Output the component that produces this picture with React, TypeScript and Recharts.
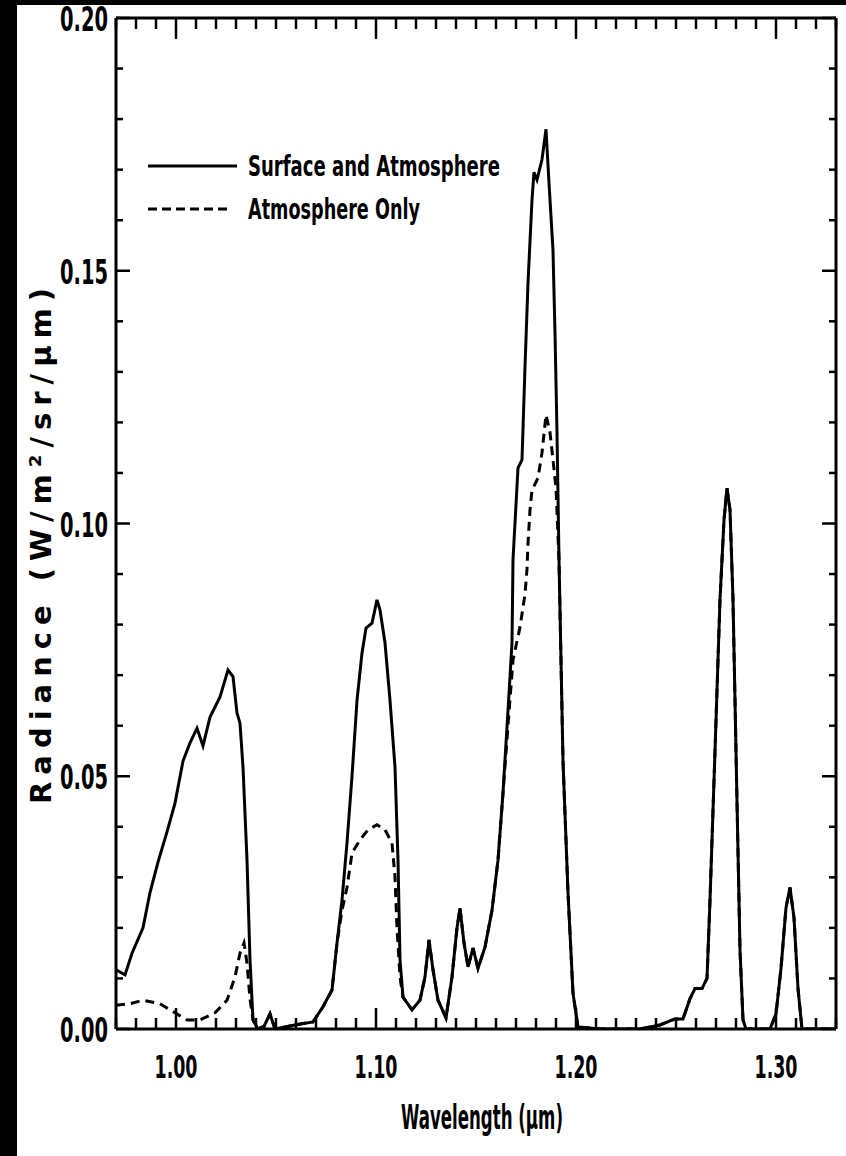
import { LineChart, Line, XAxis, YAxis, Legend } from "recharts";

// Surface + atmosphere spectrum (wavelength in µm, radiance in W/m²/sr/µm)
const surfaceWl = [
  0.97, 0.9745, 0.978, 0.9835, 0.987, 0.991, 0.9955, 0.9995, 1.0035, 1.007,
  1.0105, 1.0135, 1.017, 1.022, 1.026, 1.0285, 1.0305, 1.032, 1.0335, 1.0355,
  1.037, 1.0385, 1.041, 1.044, 1.047, 1.0495, 1.0595, 1.0685, 1.0735, 1.078,
  1.0805, 1.083, 1.0855, 1.088, 1.0905, 1.093, 1.095, 1.098, 1.1005, 1.102,
  1.1045, 1.107, 1.1095, 1.111, 1.112, 1.1135, 1.118, 1.122, 1.1245, 1.1265,
  1.1285, 1.131, 1.135, 1.138, 1.1405, 1.142, 1.144, 1.146, 1.1485, 1.151,
  1.1545, 1.158, 1.161, 1.1635, 1.166, 1.168, 1.1685, 1.171, 1.173, 1.1745,
  1.176, 1.178, 1.179, 1.1805, 1.183, 1.185, 1.1865, 1.1885, 1.1895, 1.1905,
  1.1915, 1.1935, 1.196, 1.1985, 1.201, 1.212, 1.232, 1.242, 1.2495, 1.2535,
  1.257, 1.2595, 1.263, 1.2655, 1.267, 1.2695, 1.272, 1.274, 1.2755, 1.277,
  1.2785, 1.2805, 1.282, 1.2835, 1.285, 1.297, 1.3, 1.3025, 1.305, 1.307,
  1.309, 1.311, 1.313, 1.33,
];
const surfaceRad = [
  0.0117, 0.0107, 0.015, 0.02, 0.027, 0.033, 0.039, 0.0447, 0.053, 0.0566,
  0.0595, 0.056, 0.0617, 0.0657, 0.071, 0.0697, 0.0625, 0.0605, 0.0518, 0.0334,
  0.0137, 0.0018, 0.0, 0.0005, 0.003, 0.0, 0.0008, 0.0014, 0.0044, 0.0077,
  0.017, 0.0255, 0.0368, 0.05, 0.065, 0.0744, 0.0793, 0.0803, 0.0849, 0.0829,
  0.0764, 0.065, 0.0518, 0.0334, 0.0137, 0.0063, 0.0038, 0.0057, 0.0103, 0.0176,
  0.0117, 0.0057, 0.0022, 0.0103, 0.02, 0.0239, 0.017, 0.0123, 0.016, 0.012,
  0.0162, 0.0235, 0.0334, 0.0467, 0.063, 0.0764, 0.0928, 0.111, 0.1126, 0.131,
  0.1476, 0.164, 0.1695, 0.168, 0.172, 0.178, 0.1674, 0.154, 0.1377, 0.118,
  0.0928, 0.053, 0.027, 0.0071, 0.0004, 0.0, 0.0, 0.0008, 0.002, 0.002,
  0.006, 0.008, 0.008, 0.01, 0.0255, 0.055, 0.085, 0.1007, 0.107, 0.1027,
  0.085, 0.045, 0.0156, 0.0018, 0.0, 0.0, 0.003, 0.012, 0.024, 0.028,
  0.022, 0.008, 0.0, 0.0,
];

// Atmosphere-only spectrum
const atmosWl = [
  0.97, 0.977, 0.9835, 0.992, 0.9995, 1.0055, 1.012, 1.0195, 1.0255, 1.0295,
  1.032, 1.034, 1.0355, 1.037, 1.0385, 1.041, 1.044, 1.047, 1.0495, 1.0595,
  1.0685, 1.0735, 1.078, 1.0805, 1.083, 1.0855, 1.088, 1.092, 1.096, 1.1005,
  1.1045, 1.108, 1.1095, 1.1105, 1.112, 1.1135, 1.118, 1.122, 1.1245, 1.1265,
  1.1285, 1.131, 1.135, 1.138, 1.1405, 1.142, 1.144, 1.146, 1.1485, 1.151,
  1.1545, 1.158, 1.161, 1.1635, 1.166, 1.1685, 1.172, 1.1745, 1.1755, 1.176,
  1.177, 1.178, 1.181, 1.183, 1.185, 1.187, 1.1885, 1.19, 1.1915, 1.1935,
  1.196, 1.1985, 1.201, 1.212, 1.232, 1.242, 1.2495, 1.2535, 1.257, 1.2595,
  1.263, 1.2655, 1.267, 1.2695, 1.272, 1.274, 1.2755, 1.277, 1.2785, 1.2805,
  1.282, 1.2835, 1.285, 1.297, 1.3, 1.3025, 1.305, 1.307, 1.309, 1.311,
  1.313, 1.33,
];
const atmosRad = [
  0.0047, 0.005, 0.0057, 0.005, 0.0032, 0.0018, 0.0018, 0.0032, 0.0057, 0.0103,
  0.015, 0.017, 0.013, 0.006, 0.0018, 0.0, 0.0005, 0.003, 0.0, 0.0008,
  0.0014, 0.0044, 0.0077, 0.017, 0.0235, 0.028, 0.0348, 0.0374, 0.0394, 0.0404,
  0.0394, 0.0368, 0.03, 0.02, 0.0103, 0.0063, 0.0038, 0.0057, 0.0103, 0.0176,
  0.0117, 0.0057, 0.0022, 0.0103, 0.02, 0.0239, 0.017, 0.0123, 0.016, 0.012,
  0.0162, 0.0235, 0.0334, 0.0467, 0.06, 0.073, 0.0795, 0.086, 0.091, 0.096,
  0.1027, 0.1066, 0.109, 0.114, 0.1215, 0.118, 0.1126, 0.107, 0.0928, 0.053,
  0.027, 0.0071, 0.0004, 0.0, 0.0, 0.0008, 0.002, 0.002, 0.006, 0.008,
  0.008, 0.01, 0.0255, 0.055, 0.085, 0.1007, 0.107, 0.1027, 0.085, 0.045,
  0.0156, 0.0018, 0.0, 0.0, 0.003, 0.012, 0.024, 0.028, 0.022, 0.008,
  0.0, 0.0,
];

const xMajors = [1.0, 1.1, 1.2, 1.3];
const xTickLabels = ["1.00", "1.10", "1.20", "1.30"];
const yMajors = [0.0, 0.05, 0.1, 0.15, 0.2];
const yTickLabels = ["0.00", "0.05", "0.10", "0.15", "0.20"];

const seriesNames = ["Surface and Atmosphere", "Atmosphere Only"];
const seriesDashes = ["", "9 5"];

// minor ticks every 0.01 on both axes
const xTicks = Array.from({ length: 37 }, (_, i) => Math.round((0.97 + i * 0.01) * 100) / 100);
const yTicks = Array.from({ length: 21 }, (_, i) => Math.round(i * 0.01 * 100) / 100);

const surfaceData = surfaceWl.map((wl, i) => ({ wl, rad: surfaceRad[i] }));
const atmosData = atmosWl.map((wl, i) => ({ wl, rad: atmosRad[i] }));

const FONT = "'Liberation Sans Narrow', 'DejaVu Sans Condensed', 'Liberation Sans', sans-serif";
const INK = "#000";

const near = (a: number, b: number) => Math.abs(a - b) < 1e-6;

function XTick(props: any) {
  const { x, y, payload, side } = props;
  const v = payload.value as number;
  const idx = xMajors.findIndex((m) => near(m, v));
  const len = idx >= 0 ? 21 : 11;
  const dir = side === "bottom" ? -1 : 1;
  return (
    <g>
      <line x1={x} y1={y} x2={x} y2={y + dir * len} stroke={INK} strokeWidth={2.5} />
      {side === "bottom" && idx >= 0 && (
        <text
          x={x}
          y={y + 49}
          textAnchor="middle"
          fontFamily={FONT}
          fontWeight="bold"
          fontSize={32}
          textLength={43}
          lengthAdjust="spacingAndGlyphs"
          fill={INK}
        >
          {xTickLabels[idx]}
        </text>
      )}
    </g>
  );
}

function YTick(props: any) {
  const { x, y, payload, side } = props;
  const v = payload.value as number;
  const idx = yMajors.findIndex((m) => near(m, v));
  const len = idx >= 0 ? 14 : 7;
  const dir = side === "left" ? 1 : -1;
  return (
    <g>
      <line x1={x} y1={y} x2={x + dir * len} y2={y} stroke={INK} strokeWidth={2.5} />
      {side === "left" && idx >= 0 && (
        <text
          x={x - 8}
          y={y + 13}
          textAnchor="end"
          fontFamily={FONT}
          fontWeight="bold"
          fontSize={34}
          textLength={48}
          lengthAdjust="spacingAndGlyphs"
          fill={INK}
        >
          {yTickLabels[idx]}
        </text>
      )}
    </g>
  );
}

// legend rows drawn in series order, solid first
function LegendBox() {
  return (
    <svg width={420} height={90} style={{ display: "block", overflow: "visible" }}>
      {seriesNames.map((name, i) => {
        const cy = 16 + i * 43;
        const dashed = seriesDashes[i] !== "";
        return (
          <g key={name}>
            <line
              x1={0}
              y1={cy}
              x2={dashed ? 81 : 89}
              y2={cy}
              stroke={INK}
              strokeWidth={3}
              strokeDasharray={dashed ? seriesDashes[i] : undefined}
            />
            <text
              x={100}
              y={cy + 10}
              fontFamily={FONT}
              fontWeight="bold"
              fontSize={28}
              textLength={dashed ? 172 : 252}
              lengthAdjust="spacingAndGlyphs"
              fill={INK}
            >
              {name}
            </text>
          </g>
        );
      })}
    </svg>
  );
}

function XTitle() {
  return (
    <text
      x={482}
      y={1129}
      textAnchor="middle"
      fontFamily={FONT}
      fontWeight="bold"
      fontSize={33}
      textLength={162}
      lengthAdjust="spacingAndGlyphs"
      fill={INK}
    >
      Wavelength (µm)
    </text>
  );
}

function YTitle() {
  return (
    <text
      x={0}
      y={0}
      transform="translate(51 546) rotate(-90)"
      textAnchor="middle"
      fontFamily="'DejaVu Sans', 'Liberation Sans', sans-serif"
      fontWeight="bold"
      fontSize={29}
      textLength={516}
      lengthAdjust="spacing"
      fill={INK}
    >
      Radiance (W/m²/sr/µm)
    </text>
  );
}

export default function App() {
  return (
    <div style={{ position: "absolute", left: 0, top: 0, width: 846, height: 1156, background: "#000" }}>
      <div style={{ position: "absolute", left: 17, top: 5, right: 0, bottom: 0, background: "#fff" }} />
      <div style={{ position: "absolute", left: 0, top: 0 }}>
        <LineChart width={846} height={1156} margin={{ top: 0, right: 0, bottom: 0, left: 0 }}>
          <XAxis
            xAxisId="bottom"
            dataKey="wl"
            type="number"
            orientation="bottom"
            domain={[0.97, 1.33]}
            allowDataOverflow
            ticks={xTicks}
            interval={0}
            height={127}
            tickSize={0}
            tickMargin={0}
            tickLine={false}
            axisLine={{ stroke: INK, strokeWidth: 3 }}
            tick={(p: any) => <XTick {...p} side="bottom" />}
            label={{ content: () => <XTitle /> }}
          />
          <XAxis
            xAxisId="top"
            dataKey="wl"
            type="number"
            orientation="top"
            domain={[0.97, 1.33]}
            allowDataOverflow
            ticks={xTicks}
            interval={0}
            height={18}
            tickSize={0}
            tickMargin={0}
            tickLine={false}
            axisLine={{ stroke: INK, strokeWidth: 3 }}
            tick={(p: any) => <XTick {...p} side="top" />}
          />
          <YAxis
            yAxisId="left"
            type="number"
            domain={[0, 0.2]}
            allowDataOverflow
            ticks={yTicks}
            interval={0}
            width={116}
            tickSize={0}
            tickMargin={0}
            tickLine={false}
            axisLine={{ stroke: INK, strokeWidth: 3 }}
            tick={(p: any) => <YTick {...p} side="left" />}
            label={{ content: () => <YTitle /> }}
          />
          <YAxis
            yAxisId="right"
            orientation="right"
            type="number"
            domain={[0, 0.2]}
            allowDataOverflow
            ticks={yTicks}
            interval={0}
            width={10}
            tickSize={0}
            tickMargin={0}
            tickLine={false}
            axisLine={{ stroke: INK, strokeWidth: 3 }}
            tick={(p: any) => <YTick {...p} side="right" />}
          />
          <Legend
            verticalAlign="middle"
            align="center"
            layout="vertical"
            content={<LegendBox />}
            wrapperStyle={{ position: "absolute", left: 148, top: 150, width: 420 }}
          />
          <Line
            xAxisId="bottom"
            yAxisId="left"
            data={surfaceData}
            dataKey="rad"
            name={seriesNames[0]}
            type="linear"
            stroke={INK}
            strokeWidth={3}
            dot={false}
            isAnimationActive={false}
          />
          <Line
            xAxisId="bottom"
            yAxisId="left"
            data={atmosData}
            dataKey="rad"
            name={seriesNames[1]}
            type="linear"
            stroke={INK}
            strokeWidth={3}
            strokeDasharray="9 6"
            dot={false}
            isAnimationActive={false}
          />
        </LineChart>
      </div>
    </div>
  );
}
